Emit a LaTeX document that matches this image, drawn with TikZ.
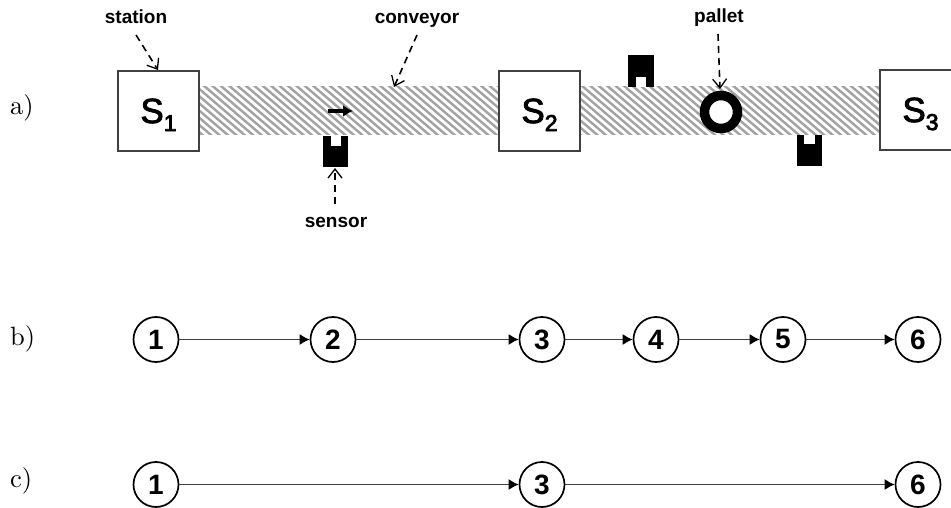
\documentclass[tikz,border=0pt]{standalone}
\usepackage{graphicx}
\usepackage{fontspec}
\setsansfont{Liberation Sans}
\usetikzlibrary{arrows.meta}
\definecolor{hatchgrey}{HTML}{A2A2A2}
\definecolor{edgegrey}{HTML}{404040}
\newcommand{\stationtext}[1]{{\sffamily\fontsize{35}{35}\selectfont\special{pdf:code 2 Tr 0.8 w}S\raisebox{-8pt}[0pt][0pt]{\fontsize{23}{23}\selectfont #1}\special{pdf:code 0 Tr 1 w}}}
\tikzset{
  x=1pt,y=-1pt,
  station/.style={draw=edgegrey,line width=1.4pt,fill=white,minimum width=81pt,minimum height=80pt,inner sep=0pt},
  state/.style={circle,draw=black,line width=1.7pt,fill=white,minimum size=45pt,inner sep=0pt,font=\sffamily\bfseries\fontsize{28}{28}\selectfont},
  rowlabel/.style={anchor=west,inner sep=0pt},
  note/.style={inner sep=0pt,anchor=base,font=\sffamily\bfseries\fontsize{19}{19}\selectfont},
  pointer/.style={draw=black,line width=1.6pt,dash pattern=on 7pt off 5pt,-{Straight Barb[length=9pt,width=14pt,line width=1.3pt]}},
  flow/.style={draw=edgegrey,line width=1.3pt,-{Latex[length=10pt,width=11pt,black]}},
  sensorbody/.style={fill=black},
  notch/.style={fill=white},
}
\begin{document}
\begin{tikzpicture}
\useasboundingbox (0,0) rectangle (951,508);
\clip (0,0) rectangle (951,508);
% conveyor hatching
\begin{scope}
  \clip (199,87) rectangle (880,135);
  \foreach \h in {0,8.4,...,760}{
    \draw[hatchgrey,line width=2.4pt] (130+\h,80) -- (200+\h,140);
  }
\end{scope}
% stations
\node[station] (s1) at (158.5,111) {\stationtext{1}};
\node[station] (s2) at (539.5,111) {\stationtext{2}};
\node[station] (s3) at (920.5,110) {\raisebox{-3pt}{\stationtext{3}}};
% sensors
\fill[sensorbody] (323,136) rectangle (348,167);
\fill[notch] (331,136) rectangle (341,146);
\fill[sensorbody] (628,55) rectangle (654,87);
\fill[notch] (636,77) rectangle (646,87);
\fill[sensorbody] (797,135) rectangle (822,166);
\fill[notch] (804,135) rectangle (815,144);
% pallet
\draw[black,line width=9.5pt,fill=white] (721,112) circle (16.5);
% direction arrow
\coordinate (dirA) at (328,111);
\coordinate (dirB) at (353,111);
\draw[line width=3.2pt,-{Latex[length=10pt,width=12pt]}] (dirA) -- (dirB);
% labels
\node[note] (lstation) at (136,24) {station};
\node[note] (lconveyor) at (417,24) {conveyor};
\node[note] (lpallet) at (719,23) {pallet};
\node[note] (lsensor) at (336,227) {sensor};
\coordinate (tstation) at (158,70);
\coordinate (tconveyor) at (394,87);
\coordinate (tpallet) at (720,89);
\coordinate (tsensor) at (335,168);
\coordinate (fstation) at (136,35);
\coordinate (fconveyor) at (417,35);
\coordinate (fpallet) at (718,34);
\coordinate (fsensor) at (335,204);
\draw[pointer] (fstation) -- (tstation);
\draw[pointer] (fconveyor) -- (tconveyor);
\draw[pointer] (fpallet) -- (tpallet);
\draw[pointer] (fsensor) -- (tsensor);
% row labels
\node[rowlabel] at (10,108) {\scalebox{2.65}{a)}};
\node[rowlabel] at (10,339) {\scalebox{2.65}{b)}};
\node[rowlabel] at (10,481) {\scalebox{2.65}{c)}};
% row b
\node[state] (b1) at (156,339.5) {1};
\node[state] (b2) at (333,339.5) {2};
\node[state] (b3) at (542,339.5) {3};
\node[state] (b4) at (656,339.5) {4};
\node[state] (b5) at (783,339.5) {5};
\node[state] (b6) at (918,339.5) {6};
\draw[flow] (b1) -- (b2);
\draw[flow] (b2) -- (b3);
\draw[flow] (b3) -- (b4);
\draw[flow] (b4) -- (b5);
\draw[flow] (b5) -- (b6);
% row c
\node[state] (c1) at (156,484.5) {1};
\node[state] (c3) at (542,484.5) {3};
\node[state] (c6) at (918,484.5) {6};
\draw[flow] (c1) -- (c3);
\draw[flow] (c3) -- (c6);
\end{tikzpicture}
\end{document}
